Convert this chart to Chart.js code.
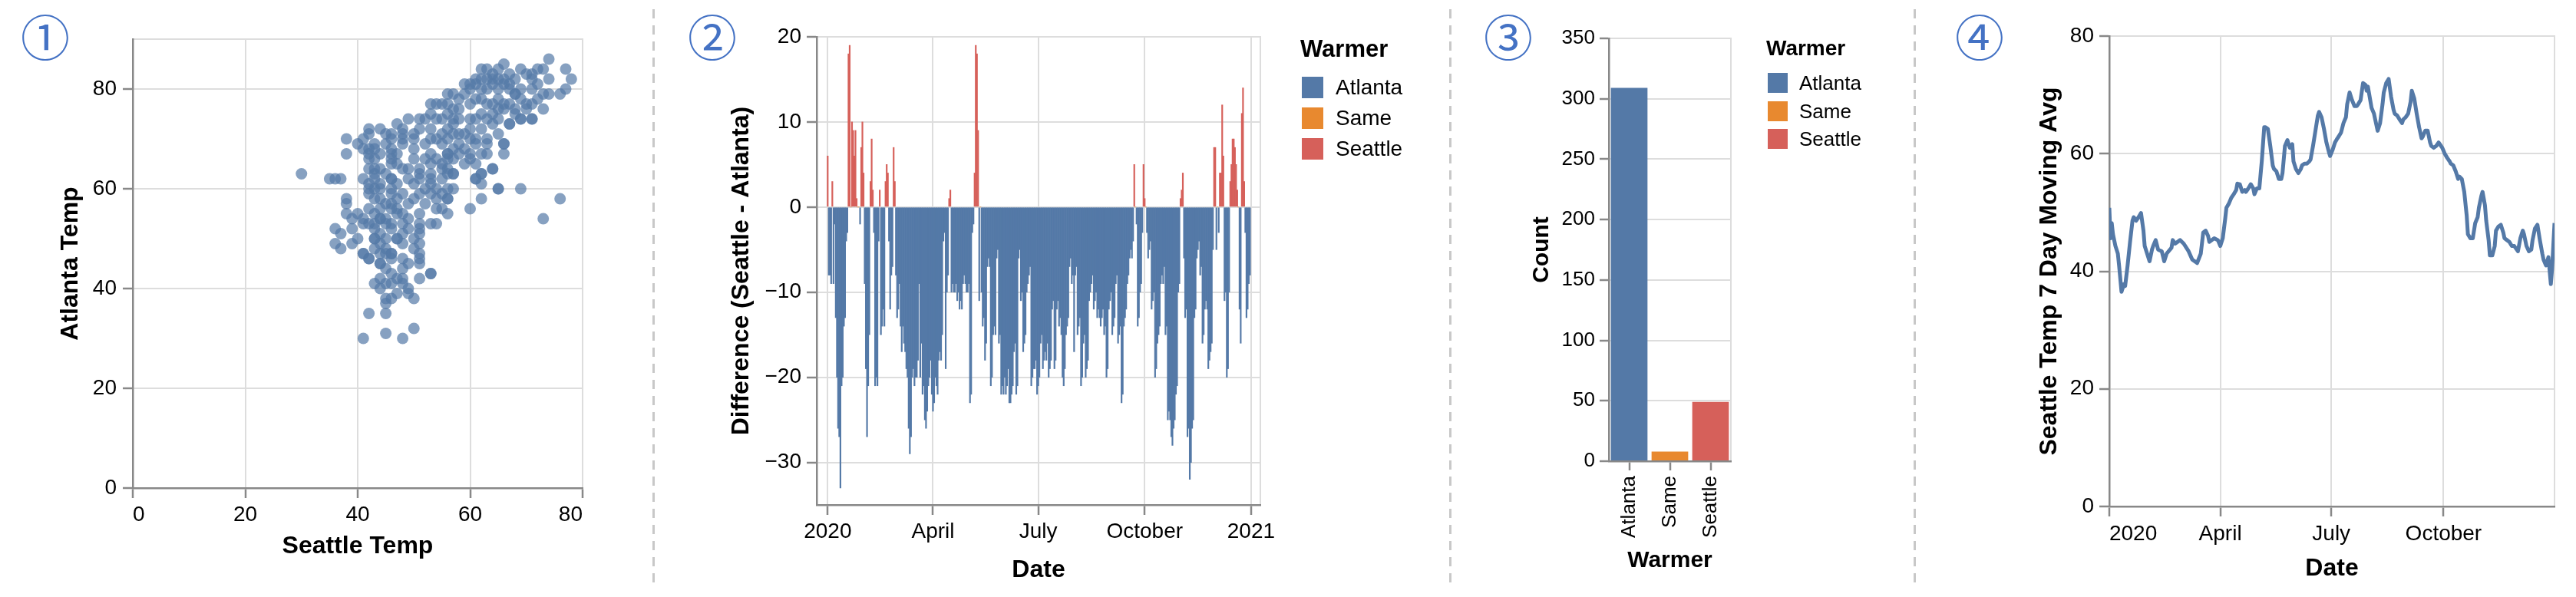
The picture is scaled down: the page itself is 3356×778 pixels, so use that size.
<!DOCTYPE html>
<html lang="en">
<head>
<meta charset="utf-8">
<title>Seattle vs Atlanta temperatures, 2020</title>
<script src="https://cdn.jsdelivr.net/npm/chart.js@4.4.9/dist/chart.umd.min.js"></script>
<style>
  html, body { margin: 0; padding: 0; background: #fff; }
  body { position: relative; width: 3356px; height: 778px; overflow: hidden; font-family: "Liberation Sans", Arial, sans-serif; }
  canvas { position: absolute; top: 0; }
  .badge { position: absolute; top: 13px; width: 80px; margin-left: -40px; text-align: center; font: 64px/1 "Noto Sans CJK JP", sans-serif; color: #4472c4; }
  .legend-title { position: absolute; font-weight: bold; line-height: 1; white-space: nowrap; color: #000; }
  .legend-swatch { position: absolute; }
  .legend-label { position: absolute; line-height: 1; white-space: nowrap; color: #000; }
  #dividers line { stroke: #c8c8c8; stroke-width: 3; stroke-dasharray: 12 9; }
</style>
</head>
<body>
<svg id="dividers" width="3356" height="778" style="position:absolute;left:0;top:0">
  <line x1="851.5" y1="12" x2="851.5" y2="768"></line>
  <line x1="1889.5" y1="12" x2="1889.5" y2="768"></line>
  <line x1="2494.5" y1="12" x2="2494.5" y2="768"></line>
</svg>

<div class="badge" style="left:59px">①</div>
<div class="badge" style="left:928px">②</div>
<div class="badge" style="left:1965px">③</div>
<div class="badge" style="left:2579px">④</div>

<canvas id="scatterChart" width="851" height="778" style="left:0px"></canvas>
<canvas id="diffChart" width="1036" height="778" style="left:853px"></canvas>
<canvas id="countChart" width="603" height="778" style="left:1891px"></canvas>
<canvas id="avgChart" width="860" height="778" style="left:2496px"></canvas>

<script>
// ---- data ----

// panel 1: one point per day, Seattle temp vs Atlanta temp
const seattleTemp = [
  74,77,78,72,74,77,76,74,73,71,69,67,66,66,64,62,62,61,65,69,76,73,62,60,56,
  61,62,63,65,66,67,68,70,71,73,64,64,62,65,69,71,
  56,57,60,62,64,66,67,69,71,59,61,63,65,67,68,72,73,66,63,60,
  54,56,58,61,63,65,67,69,71,72,55,58,60,62,64,66,68,70,53,59,65,68,
  53,56,57,60,62,65,67,69,70,71,49,51,52,54,58,61,63,64,57,55,68,66,
  56,57,59,61,63,64,48,50,53,51,58,60,57,55,62,65,47,48,
  48,53,54,56,58,60,66,52,55,57,59,61,63,50,
  42,44,45,46,38,38,41,42,43,46,47,48,50,40,41,43,45,46,42,46,
  53,56,56,58,60,62,63,59,62,64,61,54,55,56,57,60,61,55,53,57,52,
  42,43,44,46,47,49,53,56,42,43,42,45,48,50,51,44,46,
  30,35,36,37,41,43,42,46,46,49,51,53,55,56,57,52,54,56,57,43,44,47,50,51,53,44,42,
  38,38,42,43,44,46,46,48,50,54,56,56,54,55,43,45,47,49,51,52,46,53,55,
  38,40,42,43,44,46,47,48,51,53,54,36,37,39,42,43,45,46,48,51,51,41,44,45,47,49,41,44,49,39,46,43,
  36,37,39,41,42,44,45,46,48,48,50,51,51,53,40,41,43,44,44,45,45,46,47,48,49,51,51,51,53,42,43,47,44,46,43,50,
  51,43,44,45,47,48,48,47,45,45,49,50,42,45,50,45,41,48,45,46,48,46,44,46,49,44,65
];
const atlantaTemp = [
  86,84,82,84,82,80,79,79,76,74,74,73,69,67,64,63,61,62,60,60,58,54,58,56,55,
  82,84,84,84,85,83,82,83,83,84,83,82,82,82,84,82,
  79,79,80,80,81,81,81,80,80,81,81,80,80,80,79,81,79,82,82,81,
  77,77,78,78,77,78,77,78,77,78,77,76,77,78,77,77,76,77,77,79,76,79,
  75,75,76,74,75,74,73,74,76,74,74,74,74,74,74,74,74,75,74,74,75,76,
  72,73,71,70,70,73,72,71,72,72,71,72,71,71,72,71,73,71,
  70,70,70,70,69,70,69,69,69,68,68,69,69,70,
  72,72,71,71,70,67,68,68,69,68,67,69,68,69,70,68,69,67,71,70,
  67,67,67,67,67,67,67,65,63,64,62,66,65,64,66,66,65,64,63,63,66,
  67,64,64,65,65,64,65,66,66,66,64,63,64,66,64,67,66,
  63,62,62,62,62,62,60,62,62,62,62,62,62,63,63,60,60,60,60,63,61,61,61,63,61,60,61,
  58,57,59,60,58,60,59,59,58,58,58,58,56,56,58,57,58,57,59,57,57,59,59,
  55,55,56,55,56,56,56,55,55,53,53,52,51,52,53,53,53,53,53,53,52,54,54,54,55,54,53,54,52,54,52,52,
  49,48,49,47,46,49,47,47,49,46,50,49,46,43,50,47,48,45,51,48,50,47,50,51,45,51,47,45,43,46,50,50,47,46,50,48,
  42,41,42,41,42,42,41,39,38,37,40,38,35,35,32,31,30,30,44,43,44,41,40,38,39,45,60
];

// panel 2: Seattle minus Atlanta, one value per day of 2020 (day 0 = Jan 1)
const tempDiff = [
  6,-8,-8,-9,3,-9,-2,-13,-20,-26,
  -27,-33,-21,-20,-14,-13,-4,-3,18,19,
  0,10,9,6,9,1,0,0,-2,7,
  10,4,-9,-19,-27,-21,-15,3,8,2,
  -3,-21,-20,-21,-4,2,-15,-14,-12,-14,
  3,5,4,-4,-12,-8,-7,7,3,-8,
  -13,-12,-9,-14,-17,-14,-16,-17,-19,-20,
  -26,-29,-27,-20,-19,-21,-20,-20,-18,-9,
  -20,-16,-22,-21,-25,-26,-24,-21,-20,-18,
  -22,-24,-23,-20,-21,-22,-18,-17,-18,-15,
  -4,-3,-19,-10,-8,1,2,-10,-9,-10,
  -10,-9,-11,-10,-12,-11,-12,-9,-8,-9,
  -10,-10,-9,-23,-22,-3,-2,4,19,18,
  9,-11,0,-10,-14,-13,-18,-16,-7,-6,
  -7,-21,-20,-15,-14,-15,-6,-5,-16,-15,
  -22,-21,-22,-20,-22,-21,-19,-23,-23,-22,
  -21,-17,-16,-22,-21,-6,-5,-11,-10,-17,
  -16,-15,-10,-9,-8,-7,-21,-20,-19,-19,
  -18,-22,-21,-20,-16,-15,-19,-18,-17,-18,
  -16,-20,-19,-18,-12,-11,-19,-18,-12,-11,
  -14,-13,-15,-20,-21,-19,-15,-14,-13,-7,
  -6,-9,-8,-17,-8,-7,-15,-14,-13,-21,
  -20,-16,-15,-20,-19,-18,-11,-10,-9,-8,
  -12,-11,-10,-13,-12,-13,-14,-13,-12,-15,
  -14,-20,-19,-12,-11,-10,-15,-14,-13,-9,
  -8,-16,-15,-14,-23,-22,-14,-13,-12,-9,
  -8,-6,-5,-6,-4,5,0,-2,-14,-13,
  -10,-9,-3,5,1,0,-3,-6,-5,-4,
  -12,-11,-10,-20,-19,-16,-15,-14,-9,-8,
  -9,-7,-15,-14,-25,-24,-25,-27,-28,-26,
  -25,-22,-21,-10,-9,1,2,4,-6,-13,
  -12,-27,-26,-32,-30,-26,-25,-13,-12,-6,
  -5,-4,-8,-7,-16,-15,-12,-11,-12,-19,
  -18,-17,-16,-5,7,7,-5,0,-3,4,
  4,12,6,-11,-10,-20,-19,-10,3,5,
  8,8,7,5,2,0,-12,-16,11,14,
  3,-3,-13,-12,-9,-8
];

// panel 3: which city was warmer, number of days
const warmerLabels = ["Atlanta", "Same", "Seattle"];
const warmerCounts = [309, 8, 49];

// panel 4: Seattle 7 day moving average (day of year, temp)
const avgDays = [
  0,1,2,3,5,7,8,10,12,13,
  15,17,19,20,22,24,26,28,29,31,
  33,35,36,38,40,43,45,47,51,52,
  54,58,61,65,68,72,75,77,79,81,
  82,86,89,91,93,95,96,98,100,102,
  104,105,107,109,111,112,114,116,118,119,
  121,123,125,127,128,130,132,134,135,137,
  139,141,142,144,146,148,150,151,153,155,
  157,158,160,162,164,165,167,169,171,172,
  174,176,178,180,181,183,185,187,188,190,
  192,194,195,197,199,201,203,204,206,208,
  210,211,212,215,217,218,220,222,224,225,
  227,229,231,233,234,236,238,240,241,243,
  245,247,248,250,252,254,256,257,259,261,
  263,264,266,268,270,271,273,275,277,279,
  280,282,284,286,287,289,291,293,294,296,
  298,300,302,303,305,306,308,309,311,312,
  314,316,317,319,321,323,324,326,328,330,
  332,333,335,337,339,340,342,344,346,347,
  349,351,353,355,356,358,360,362,363,364,
  365
];
const avgTemps = [
  50.8,45.6,48.2,46.3,44.3,43,41,36.5,37.8,37.5,
  41,45,48.6,49.2,48.6,49.2,49.9,46.9,44.3,43,
  41.7,43.7,44.3,45.3,43.7,43.4,41.7,43,44,45.3,
  44.7,45.3,44.7,43.4,42,41.4,43,46.6,46.9,46,
  45,45.6,45.3,44.3,45.6,48.9,50.8,51.5,52.5,53.1,
  53.8,54.9,54.8,53.5,53.8,53.5,54.1,54.8,54.1,53.1,
  54.1,54.1,58.7,64.5,64.5,64.2,61.3,58,57.4,57,
  55.7,55.7,56.7,61.3,62.3,61,61.6,58.7,57.4,56.7,
  57.4,58,58.3,58.3,58.7,59,61.3,63.9,66.5,67.1,
  66.2,64.2,61.9,60.3,59.6,60.6,61.9,62.6,62.9,63.6,
  65.2,66.2,68.4,70.4,69.1,68.1,68.1,68.4,69.1,72,
  71.7,70.7,71.4,67.8,66.8,65.8,63.9,65.2,68.4,70.4,
  72,72.7,69.7,67.5,66.8,66.5,65.8,65.2,65.8,66.2,
  66.8,68.8,70.7,69.4,66.8,64.5,62.6,62.9,63.9,63.9,
  61.9,61.3,61,61.3,61.9,61.6,61,60,59.3,58.7,
  58.3,58,57,55.7,56.1,55.7,53.5,49.5,46.3,45.6,
  45.6,48.2,49.2,50.8,52.8,53.5,51.2,48.6,45.3,42.7,
  42.7,44.3,46.9,47.6,47.9,46.6,45.6,45.3,45,44.3,
  44.3,44,43.4,45.6,46.9,46.3,44.3,43.4,43.7,45.3,
  47.3,47.9,45.3,43,42,41,42.4,37.8,40.4,44.3,
  48.2
];

// date axis ticks (day of year -> label)
const monthTickDays = [0, 91, 182, 274, 366];
const monthTickLabels = ["2020", "April", "July", "October", "2021"];

// ---- style ----
const AXIS_GREY = "#888";
const GRID_GREY = "#ddd";
const BLUE = "#5479a7";
const warmerColors = ["#5479a7", "#e8892f", "#d6605a"];

Chart.defaults.font.family = "'Liberation Sans', Arial, sans-serif";
Chart.defaults.color = "#000";
Chart.defaults.animation = false;
Chart.defaults.responsive = false;
Chart.defaults.events = [];
Chart.defaults.plugins.legend.display = false;
Chart.defaults.plugins.tooltip.enabled = false;

// light grey frame round the plot area
const viewBorder = {
  id: "viewBorder",
  beforeDraw(chart) {
    const { ctx, chartArea: a } = chart;
    ctx.save();
    ctx.strokeStyle = GRID_GREY;
    ctx.lineWidth = 2;
    ctx.strokeRect(a.left, a.top, a.right - a.left, a.bottom - a.top);
    ctx.restore();
  },
};

function makeAxis(o) {
  const ax = {
    grid: {
      display: true,
      drawOnChartArea: o.grid !== false,
      color: GRID_GREY,
      lineWidth: 2,
      tickLength: o.tickLength || 13,
      tickColor: AXIS_GREY,
      tickWidth: 2.5,
      offset: false,
    },
    border: { display: true, color: AXIS_GREY, width: 2.5 },
    ticks: Object.assign({
      font: { size: o.tickFont || 28 },
      padding: o.tickPad,
      color: "#000",
      autoSkip: false,
      maxRotation: o.rotate || 0,
      minRotation: o.rotate || 0,
    }, o.ticks || {}),
    title: {
      display: true,
      text: o.title,
      color: "#000",
      font: { size: o.titleFont || 32, weight: "bold" },
      padding: o.horizontal ? { top: 0, bottom: o.titlePad } : { top: o.titlePad, bottom: 0 },
    },
    afterFit(scale) {
      if (o.horizontal) scale.height = o.size;
      else scale.width = o.size;
    },
  };
  return Object.assign(ax, o.extra || {});
}

// ticks on round multiples of step inside the axis range
function evenTicks(step) {
  return (scale) => {
    const ticks = [];
    for (let v = Math.ceil(scale.min / step) * step; v <= scale.max + 1e-9; v += step) {
      ticks.push({ value: v });
    }
    scale.ticks = ticks;
  };
}

function dateTicks(scale) {
  scale.ticks = monthTickDays
    .filter((d) => d >= scale.min && d <= scale.max)
    .map((d) => ({ value: d }));
}

function minusSign(v) {
  return String(v).replace("-", "\u2212");
}

// ---- panel 1: scatter ----
new Chart(document.getElementById("scatterChart"), {
  type: "scatter",
  data: {
    datasets: [{
      data: seattleTemp.map((s, i) => ({ x: s, y: atlantaTemp[i] })),
      backgroundColor: "rgba(84,121,167,0.7)",
      borderWidth: 0,
      pointRadius: 7.5,
      pointHoverRadius: 7.5,
    }],
  },
  options: {
    layout: { padding: { left: 0, top: 51, right: 92, bottom: 0 } },
    scales: {
      x: makeAxis({
        horizontal: true, size: 142, tickPad: 5, title: "Seattle Temp", titlePad: 47,
        ticks: { callback: (v) => (v === 0 ? "  0" : v === 80 ? "80    " : String(v)) },
        extra: { type: "linear", min: 0, max: 80, bounds: "data", afterBuildTicks: evenTicks(20) },
      }),
      y: makeAxis({
        size: 173, tickPad: 8, title: "Atlanta Temp", titlePad: 73,
        extra: { type: "linear", min: 0, max: 90, bounds: "data", afterBuildTicks: evenTicks(20) },
      }),
    },
  },
  plugins: [viewBorder],
});

// ---- panel 2: daily difference bars ----
new Chart(document.getElementById("diffChart"), {
  type: "bar",
  data: {
    datasets: [{
      data: tempDiff.map((v, i) => ({ x: i, y: v })),
      backgroundColor: (ctx) => {
        const v = ctx.raw ? ctx.raw.y : 0;
        return v > 0 ? warmerColors[2] : v < 0 ? warmerColors[0] : warmerColors[1];
      },
      borderWidth: 0,
      barPercentage: 1,
      categoryPercentage: 1,
    }],
  },
  options: {
    layout: { padding: { left: 0, top: 48, right: 247, bottom: 0 } },
    scales: {
      x: makeAxis({
        horizontal: true, size: 120, tickPad: 5, title: "Date", titlePad: 16,
        ticks: { callback: (v) => monthTickLabels[monthTickDays.indexOf(v)] },
        extra: { type: "linear", min: -9.5, max: 374, bounds: "data", offset: false, afterBuildTicks: dateTicks },
      }),
      y: makeAxis({
        size: 211, tickPad: 7, title: "Difference (Seattle - Atlanta)", titlePad: 94,
        ticks: { callback: minusSign },
        extra: { type: "linear", min: -35, max: 20, bounds: "data", afterBuildTicks: evenTicks(10) },
      }),
    },
  },
  plugins: [viewBorder],
});

// ---- panel 3: count of days per warmer city ----
new Chart(document.getElementById("countChart"), {
  type: "bar",
  data: {
    labels: warmerLabels,
    datasets: [{
      data: warmerCounts,
      backgroundColor: warmerColors,
      borderWidth: 0,
      barPercentage: 0.9,
      categoryPercentage: 1,
    }],
  },
  options: {
    layout: { padding: { left: 0, top: 50, right: 239, bottom: 0 } },
    scales: {
      x: makeAxis({
        horizontal: true, size: 177, tickPad: 7, tickLength: 12, tickFont: 26, rotate: 90,
        title: "Warmer", titleFont: 30, titlePad: 29, grid: false,
        extra: { type: "category", offset: true },
      }),
      y: makeAxis({
        size: 205, tickPad: 6, tickLength: 12, tickFont: 26, title: "Count", titleFont: 30, titlePad: 100,
        extra: { type: "linear", min: 0, max: 350, bounds: "data", afterBuildTicks: evenTicks(50) },
      }),
    },
  },
  plugins: [viewBorder],
});

// ---- panel 4: moving average line ----
new Chart(document.getElementById("avgChart"), {
  type: "line",
  data: {
    datasets: [{
      data: avgDays.map((d, i) => ({ x: d, y: avgTemps[i] })),
      borderColor: BLUE,
      borderWidth: 5,
      borderJoinStyle: "round",
      pointRadius: 0,
      tension: 0,
      fill: false,
    }],
  },
  options: {
    layout: { padding: { left: 0, top: 47, right: 28, bottom: 0 } },
    scales: {
      x: makeAxis({
        horizontal: true, size: 118, tickPad: 6, title: "Date", titlePad: 18,
        ticks: {
          callback: (v) => {
            const label = monthTickLabels[monthTickDays.indexOf(v)];
            return v === 0 ? "        " + label : label;
          },
        },
        extra: { type: "linear", min: 0, max: 365, bounds: "data", afterBuildTicks: dateTicks },
      }),
      y: makeAxis({
        size: 252, tickPad: 7, title: "Seattle Temp 7 Day Moving Avg", titlePad: 155,
        extra: { type: "linear", min: 0, max: 80, bounds: "data", afterBuildTicks: evenTicks(20) },
      }),
    },
  },
  plugins: [viewBorder],
});

// ---- legends ----
function addLegend(o) {
  const t = document.createElement("div");
  t.className = "legend-title";
  t.textContent = "Warmer";
  t.style.cssText = `left:${o.left}px;top:${o.titleTop}px;font-size:${o.titleSize}px`;
  document.body.appendChild(t);
  warmerLabels.forEach((name, i) => {
    const top = o.rowTop + i * o.rowGap;
    const sw = document.createElement("div");
    sw.className = "legend-swatch";
    sw.style.cssText = `left:${o.left + 2}px;top:${top}px;width:${o.box}px;height:${o.box}px;background:${warmerColors[i]}`;
    document.body.appendChild(sw);
    const lab = document.createElement("div");
    lab.className = "legend-label";
    lab.textContent = name;
    lab.style.cssText = `left:${o.labelLeft}px;top:${top + (o.box - o.labelSize) / 2}px;font-size:${o.labelSize}px`;
    document.body.appendChild(lab);
  });
}
addLegend({ left: 1694, titleTop: 48, titleSize: 31, rowTop: 100, rowGap: 40, box: 28, labelLeft: 1740, labelSize: 28 });
addLegend({ left: 2301, titleTop: 49, titleSize: 28, rowTop: 95, rowGap: 36.5, box: 26, labelLeft: 2344, labelSize: 26 });
</script>
</body>
</html>
